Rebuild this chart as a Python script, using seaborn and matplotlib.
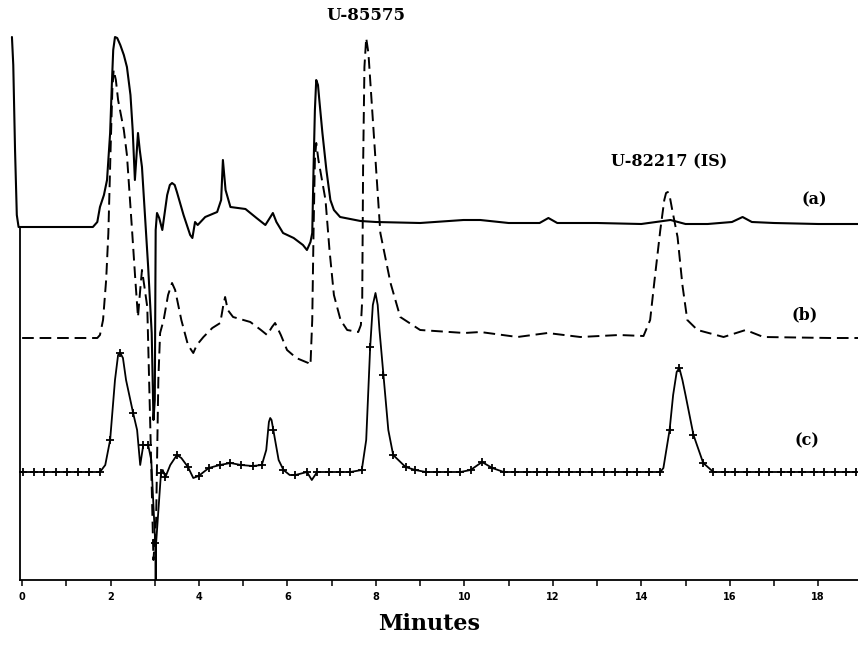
import matplotlib
matplotlib.use("Agg")
import matplotlib.pyplot as plt
import seaborn as sns
import pandas as pd

# --- chromatogram values (minutes, detector response, arbitrary units) ---

# (a) solid trace
a_min = [-0.23, -0.20, -0.16, -0.12, -0.08, 0.5, 1.0, 1.6, 1.7, 1.76, 1.85, 1.92, 1.99, 2.03,
         2.06, 2.1, 2.15, 2.22, 2.3, 2.37, 2.45, 2.5, 2.55, 2.58, 2.62, 2.66, 2.71, 2.78,
         2.85, 2.93, 2.97, 3.0, 3.02, 3.05, 3.1, 3.17, 3.28, 3.34, 3.39, 3.45, 3.5, 3.65,
         3.8, 3.85, 3.91, 3.97, 4.14, 4.41, 4.5, 4.54, 4.6, 4.71, 5.05, 5.3, 5.5, 5.6,
         5.67, 5.75, 5.9, 6.14, 6.35, 6.44, 6.52, 6.56, 6.59, 6.62, 6.65, 6.69, 6.72, 6.79,
         6.88, 6.97, 7.05, 7.19, 7.65, 8.0, 9.0, 9.98, 10.36, 11.0, 11.7, 11.9, 12.1, 13.0,
         14.0, 14.66, 15.0, 15.5, 16.05, 16.29, 16.5, 17.0, 18.0, 18.9]
a_resp = [5.43, 5.15, 4.3, 3.65, 3.53, 3.53, 3.53, 3.53, 3.58, 3.73, 3.85, 4.0, 4.47, 4.97,
          5.3, 5.43, 5.42, 5.35, 5.25, 5.13, 4.85, 4.5, 4.0, 4.2, 4.47, 4.3, 4.13, 3.63,
          3.13, 2.47, 1.6, 1.8, 3.5, 3.67, 3.62, 3.5, 3.85, 3.95, 3.97, 3.95, 3.88, 3.65,
          3.45, 3.42, 3.58, 3.55, 3.63, 3.68, 3.8, 4.2, 3.9, 3.73, 3.71, 3.62, 3.55, 3.62,
          3.67, 3.58, 3.47, 3.42, 3.35, 3.3, 3.38, 3.47, 4.13, 4.7, 5.0, 4.95, 4.8, 4.47,
          4.1, 3.8, 3.7, 3.63, 3.59, 3.58, 3.57, 3.6, 3.6, 3.57, 3.57, 3.62, 3.57, 3.57,
          3.56, 3.6, 3.56, 3.56, 3.58, 3.63, 3.58, 3.57, 3.56, 3.56]

# (b) dashed trace
b_min = [0.0, 1.0, 1.7, 1.76, 1.83, 1.9, 1.95, 2.0, 2.04, 2.07, 2.12, 2.17, 2.3, 2.37, 2.49,
         2.56, 2.62, 2.67, 2.71, 2.76, 2.83, 2.9, 2.97, 3.03, 3.08, 3.12, 3.2, 3.3, 3.39,
         3.46, 3.6, 3.75, 3.87, 3.95, 4.1, 4.3, 4.48, 4.55, 4.59, 4.65, 4.77, 5.16, 5.4,
         5.54, 5.65, 5.72, 5.85, 5.99, 6.2, 6.47, 6.52, 6.56, 6.59, 6.62, 6.65, 6.7, 6.78,
         6.86, 6.95, 7.05, 7.2, 7.35, 7.6, 7.66, 7.69, 7.71, 7.74, 7.78, 7.83, 7.95, 8.1,
         8.33, 8.55, 9.0, 10.0, 10.36, 11.2, 11.88, 12.62, 13.5, 14.05, 14.2, 14.3, 14.43,
         14.52, 14.56, 14.6, 14.65, 14.7, 14.82, 14.93, 15.04, 15.27, 15.86, 16.36, 16.76,
         18.28, 18.9]
b_resp = [2.42, 2.42, 2.42, 2.45, 2.6, 3.0, 3.47, 4.3, 4.9, 5.1, 5.0, 4.8, 4.5, 4.25, 3.47,
          3.0, 2.63, 2.9, 3.1, 2.95, 2.73, 1.5, 0.2, 0.6, 2.0, 2.47, 2.6, 2.85, 2.97,
          2.9, 2.6, 2.35, 2.27, 2.35, 2.43, 2.52, 2.57, 2.75, 2.83, 2.7, 2.63, 2.58, 2.5,
          2.45, 2.53, 2.57, 2.45, 2.3, 2.22, 2.17, 2.15, 2.6, 3.5, 4.2, 4.37, 4.2, 4.0,
          3.8, 3.3, 2.85, 2.6, 2.5, 2.48, 2.55, 2.8, 4.13, 5.13, 5.42, 5.27, 4.47, 3.47,
          2.97, 2.63, 2.5, 2.47, 2.48, 2.43, 2.47, 2.43, 2.45, 2.44, 2.6, 3.0, 3.5,
          3.8, 3.87, 3.88, 3.82, 3.7, 3.43, 2.95, 2.6, 2.5, 2.43, 2.5, 2.43,
          2.42, 2.42]

# (c) solid trace with "+" sample marks
c_mark_min = [0.02, 0.26, 0.5, 0.76, 1.01, 1.26, 1.52, 1.76, 1.99, 2.22, 2.51, 2.74, 2.85,
              3.01, 3.14, 3.24, 3.5, 3.75, 3.99, 4.22, 4.47, 4.71, 4.95, 5.21, 5.42, 5.68,
              5.91, 6.18, 6.44, 6.67, 6.93, 7.19, 7.42, 7.68, 7.87, 8.17, 8.39, 8.67, 8.89,
              9.13, 9.38, 9.64, 9.91, 10.14, 10.4, 10.63, 10.89, 11.15, 11.42, 11.64, 11.87,
              12.13, 12.36, 12.62, 12.89, 13.15, 13.41, 13.68, 13.91, 14.17, 14.43, 14.64,
              14.86, 15.18, 15.4, 15.63, 15.9, 16.13, 16.4, 16.66, 16.88, 17.15, 17.38,
              17.64, 17.9, 18.13, 18.39, 18.62, 18.85]
c_mark_resp = [1.08, 1.08, 1.08, 1.08, 1.08, 1.08, 1.08, 1.08, 1.4, 2.27, 1.67, 1.35, 1.35,
               0.37, 1.07, 1.03, 1.25, 1.13, 1.04, 1.12, 1.15, 1.17, 1.15, 1.14, 1.15, 1.5,
               1.1, 1.05, 1.08, 1.08, 1.08, 1.08, 1.08, 1.1, 2.33, 2.05, 1.25, 1.13, 1.1,
               1.08, 1.08, 1.08, 1.08, 1.1, 1.18, 1.12, 1.08, 1.08, 1.08, 1.08, 1.08,
               1.08, 1.08, 1.08, 1.08, 1.08, 1.08, 1.08, 1.08, 1.08, 1.08, 1.5,
               2.12, 1.45, 1.17, 1.08, 1.08, 1.08, 1.08, 1.08, 1.08, 1.08, 1.08,
               1.08, 1.08, 1.08, 1.08, 1.08, 1.08]
# points of the (c) line between the marks
c_extra_min = [-0.05, 1.88, 2.1, 2.17, 2.28, 2.35, 2.6, 2.67, 2.92, 3.02, 3.03, 3.18, 3.35,
               3.6, 3.87, 5.52, 5.58, 5.61, 5.64, 5.8, 6.05, 6.55, 7.78, 7.93, 7.99, 8.04,
               8.08, 8.28, 14.5, 14.72, 14.8, 14.93, 15.0]
c_extra_resp = [1.08, 1.15, 2.0, 2.25, 2.22, 2.0, 1.5, 1.15, 1.2, 0.0, 0.37, 1.1, 1.15,
                1.22, 1.02, 1.3, 1.58, 1.62, 1.6, 1.2, 1.05, 1.0, 1.4, 2.75, 2.87, 2.75,
                2.5, 1.5, 1.12, 1.85, 2.08, 2.0, 1.85]

x_ticks = list(range(0, 19, 2))
x_minor = list(range(0, 19))

c_line = pd.DataFrame({"min": c_mark_min + c_extra_min,
                       "resp": c_mark_resp + c_extra_resp}).sort_values("min")

sns.set_style("white")
plt.rcParams['font.family'] = ['DejaVu Sans']
plt.rcParams['text.color'] = 'black'
plt.rcParams['axes.labelcolor'] = 'black'
plt.rcParams['xtick.color'] = 'black'

fig = plt.figure(figsize=(8.58, 6.47), dpi=100)
ax = fig.add_axes([0.0, 67 / 647, 1.0, 580 / 647])

sns.lineplot(x=a_min, y=a_resp, ax=ax, color="black", lw=1.5, sort=False, estimator=None)
sns.lineplot(x=b_min, y=b_resp, ax=ax, color="black", lw=1.4, sort=False, estimator=None,
             linestyle=(0, (6, 3)))
sns.lineplot(data=c_line, x="min", y="resp", ax=ax, color="black", lw=1.3, sort=False,
             estimator=None)
sns.scatterplot(x=c_mark_min, y=c_mark_resp, ax=ax, marker="+", color="black", s=38,
                linewidth=1.3, zorder=3)

ax.set_xlim(-0.5, 18.9)
ax.set_ylim(0, 5.8)

for side in ["top", "right"]:
    ax.spines[side].set_visible(False)
ax.spines["left"].set_position(("data", -0.05))
ax.spines["left"].set_bounds(0, 3.53)
ax.spines["bottom"].set_bounds(-0.05, 18.9)
for sp in ax.spines.values():
    sp.set_linewidth(1.3)
    sp.set_color("black")

ax.set_yticks([])
ax.set_xticks(x_ticks)
ax.set_xticks(x_minor, minor=True)
ax.set_xticklabels([str(t) for t in x_ticks], fontsize=7, fontweight="bold")
ax.tick_params(axis="x", which="both", direction="out", length=4.5, width=1.1,
               color="black", bottom=True, pad=4)
ax.set_xlabel("Minutes", fontsize=16, fontweight="bold", family="DejaVu Serif", labelpad=8)
ax.set_ylabel("")

serif = dict(family="DejaVu Serif", fontweight="bold", ha="center", va="center", color="black")
ax.text(7.78, 5.65, "U-85575", fontsize=12, **serif)
ax.text(14.62, 4.18, "U-82217 (IS)", fontsize=11.5, **serif)
ax.text(17.9, 3.8, "(a)", fontsize=11.5, **serif)
ax.text(17.69, 2.65, "(b)", fontsize=11.5, **serif)
ax.text(17.74, 1.39, "(c)", fontsize=11.5, **serif)

fig.savefig("out.png", dpi=100)
